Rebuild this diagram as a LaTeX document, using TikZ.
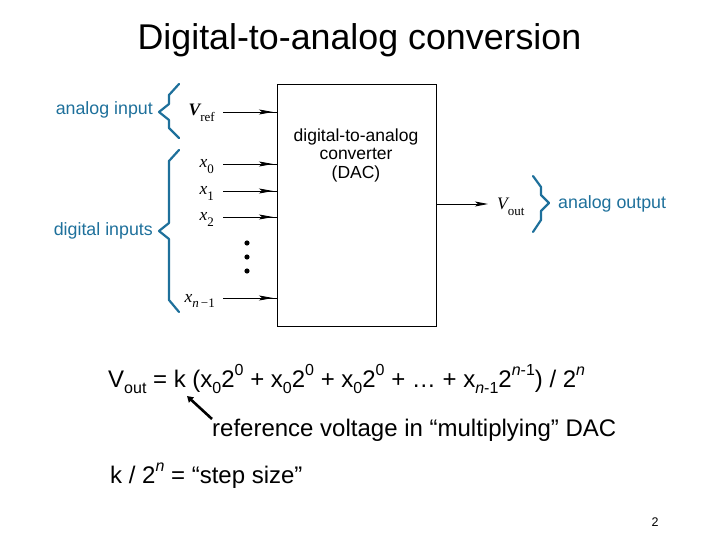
\documentclass[tikz,border=0pt]{standalone}
\usepackage{fontspec}
\setmainfont{Liberation Sans}
\newfontfamily\serif{Liberation Serif}
\usetikzlibrary{arrows.meta,decorations.markings}
\definecolor{bl}{RGB}{30,112,155}
\newcommand\dsub[1]{\raisebox{-0.28em}{\fontsize{16}{16}\selectfont #1}}
\newcommand\dsup[1]{\raisebox{0.5em}{\fontsize{16}{16}\selectfont #1}}
\newcommand\ssub[1]{\raisebox{-0.3em}{\fontsize{13}{13}\selectfont #1}}
\tikzset{
  brace/.style={draw=bl, line width=2.2pt, line join=round, line cap=round},
  btext/.style={text=bl, font=\fontsize{17.8}{17.8}\selectfont, inner sep=0pt},
  lab/.style={font=\serif\fontsize{17.5}{17.5}\selectfont, inner sep=0pt, anchor=base east},
  inarrow/.style={line width=0.8pt, postaction={decorate}, decoration={markings,
     mark=at position 50pt with {\arrow{Stealth[length=14pt,width=5pt,inset=3pt]}}}},
  big/.style={font=\fontsize{24}{24}\selectfont, inner sep=0pt, anchor=base west},
}
\begin{document}
\begin{tikzpicture}[x=1pt,y=-1pt]
\useasboundingbox (0,0) rectangle (720,540);
% title
\node[font=\fontsize{35.8}{35.8}\selectfont, inner sep=0pt, anchor=base] (title) at (359.5,50) {Digital-to-analog conversion};
% DAC box
\node[draw, line width=0.9pt, minimum width=159pt, minimum height=242pt, anchor=north west, inner sep=0pt] (dac) at (277,84) {};
\node[font=\fontsize{17.5}{18.5}\selectfont, align=center, inner sep=0pt, anchor=center] (dactext) at (356,155) {digital-to-analog\\converter\\(DAC)};
% input coordinates
\coordinate (ir) at (223,112);
\coordinate (i0) at (223,164);
\coordinate (i1) at (223,191);
\coordinate (i2) at (223,217);
\coordinate (in) at (223,298);
\foreach \c in {ir,i0,i1,i2,in} {\draw[inarrow] (\c) -- (\c -| dac.west);}
% labels
\node[lab] (lvr) at (215,116) {{\bfseries\itshape V}\ssub{ref}};
\node[lab] (lx0) at (214,168) {{\itshape x}\ssub{0}};
\node[lab] (lx1) at (214,195) {{\itshape x}\ssub{1}};
\node[lab] (lx2) at (214,221) {{\itshape x}\ssub{2}};
\node[lab] (lxn) at (215,302) {{\itshape x}\ssub{{\itshape n}\,\textminus 1}};
% dots
\foreach \y [count=\i] in {243,257,271} {\fill (247,\y) circle (2.6pt) coordinate (d\i);}
% output
\coordinate (oe) at (488,204);
\draw[line width=0.8pt, -{Stealth[length=13pt,width=5pt,inset=3pt]}] (dac.east |- oe) -- (oe);
\node[lab, anchor=base west] (lvo) at (497,210) {{\itshape V}\ssub{out}};
% braces
\draw[brace] (179,84) -- (169,95) -- (169,104) -- (159,112) -- (169,120) -- (169,128) -- (179,138);
\draw[brace] (179,150) -- (169,161) -- (169,223) -- (159,231) -- (169,239) -- (169,300) -- (179,312);
\draw[brace] (533,176) -- (541,187) -- (541,195) -- (549,203) -- (541,211) -- (541,220) -- (533,232);
\node[btext, anchor=base east] (tai) at (153,115) {analog input};
\node[btext, anchor=base east] (tdi) at (153,236) {digital inputs};
\node[btext, anchor=base west] (tao) at (558,209) {analog output};
% equation
\node[big] (eq) at (108,387) {V\dsub{out} = k (x\dsub{0}2\dsup{0} + x\dsub{0}2\dsup{0} + x\dsub{0}2\dsup{0} + … + x\dsub{{\itshape n}-1}2\dsup{{\itshape n}-1}) / 2\dsup{\itshape n}};
\coordinate (at) at (187,396);
\node[big] (ref) at (212,436) {reference voltage in “multiplying” DAC};
\draw[line width=2.6pt, -{Triangle[length=6pt,width=7pt]}] (212,419) -- (at);
\node[big] (step) at (110,483) {k / 2\dsup{\itshape n} = “step size”};
\node[font=\fontsize{12.5}{12.5}\selectfont, inner sep=0pt, anchor=base] (pg) at (655,526) {2};
\end{tikzpicture}
\end{document}
